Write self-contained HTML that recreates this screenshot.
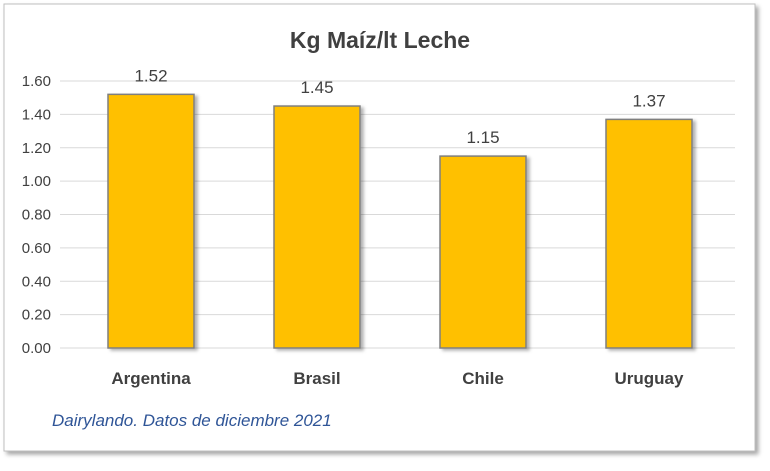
<!DOCTYPE html>
<html><head><meta charset="utf-8"><style>
body{margin:0;width:770px;height:466px;background:#fff;overflow:hidden;font-family:"Liberation Sans",Arial,sans-serif}
</style></head><body>
<svg width="770" height="466">
<defs>
<filter id="sh" x="-10%" y="-10%" width="130%" height="130%"><feDropShadow dx="3" dy="3" stdDeviation="2" flood-color="#000" flood-opacity="0.35"/></filter>
<filter id="bs" x="-10%" y="-10%" width="130%" height="130%"><feDropShadow dx="3" dy="2" stdDeviation="1.5" flood-color="#000" flood-opacity="0.3"/></filter>
</defs>
<rect x="4" y="4" width="751" height="447" fill="#fff" stroke="#bfbfbf" filter="url(#sh)"/>
<text x="380" y="48" text-anchor="middle" font-size="23" font-weight="bold" fill="#404040">Kg Maíz/lt Leche</text>
<g id="grid"></g><g id="bars"></g>
<text x="52" y="426" font-size="17" font-style="italic" fill="#2f5597">Dairylando. Datos de diciembre 2021</text>
</svg>
<script>
const categories=["Argentina","Brasil","Chile","Uruguay"];
const values=[1.52,1.45,1.15,1.37];
const valueLabels=["1.52","1.45","1.15","1.37"];
const ticks=[0,0.2,0.4,0.6,0.8,1.0,1.2,1.4,1.6];
const ns="http://www.w3.org/2000/svg";
const y0=348,y1=81,left=68,right=732;
const y=v=>y0-(v/1.6)*(y0-y1);
const bw=(right-left)/categories.length;
const g=document.getElementById('grid'),b=document.getElementById('bars');
function mk(t,a,p){const e=document.createElementNS(ns,t);for(const k in a)e.setAttribute(k,a[k]);p.appendChild(e);return e;}
ticks.forEach(t=>{
 const l=mk('line',{x1:60,x2:735,y1:y(t),y2:y(t),stroke:'#d9d9d9','stroke-width':1},g);
 
 
 const tx=mk('text',{x:51,y:y(t)+5,'text-anchor':'end','font-size':15,fill:'#404040'},g);
 tx.textContent=t.toFixed(2);
 
 
});
categories.forEach((c,i)=>{
 const cx=left+bw*(i+0.5),w=86;
 const r=mk('rect',{x:cx-w/2,y:y(values[i]),width:w,height:y0-y(values[i]),fill:'#ffc000',stroke:'#7f7f7f','stroke-width':1.5,filter:'url(#bs)'},b);
 
 
 const v=mk('text',{x:cx,y:y(values[i])-13,'text-anchor':'middle','font-size':17,fill:'#404040'},b);
 v.textContent=valueLabels[i];
 
 
 const cl=mk('text',{x:cx,y:384,'text-anchor':'middle','font-size':17,'font-weight':'bold',fill:'#404040'},b);
 cl.textContent=c;
 
 
});
</script>
</body></html>
